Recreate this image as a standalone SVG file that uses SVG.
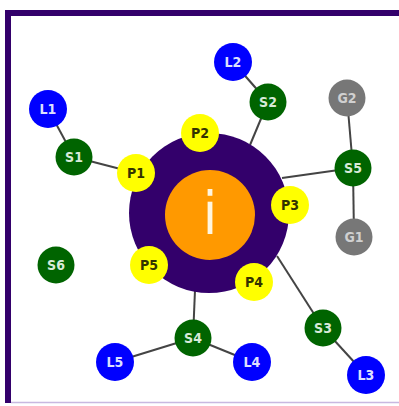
<svg xmlns="http://www.w3.org/2000/svg" width="399" height="406" viewBox="0 0 399 406">
<style>
.p{fill:#ffff00}
.s{fill:#006400}
.l{fill:#0000ff}
.g{fill:#777777}
.t{font-family:"DejaVu Sans Condensed","DejaVu Sans",sans-serif;font-size:14px;font-weight:bold;text-anchor:middle;dominant-baseline:central}
.tp{fill:#333300}
.ts{fill:#d8ead8}
.tl{fill:#dde0ff}
.tg{fill:#d0d0d0}
.e{stroke:#444444;stroke-width:2;fill:none}
</style>
<rect x="0" y="0" width="399" height="406" fill="#ffffff"/>
<rect x="5" y="10" width="394" height="6" fill="#33006b"/>
<rect x="5" y="10" width="6" height="393" fill="#33006b"/>
<line x1="11" y1="402.5" x2="399" y2="402.5" stroke="#c8b8e0" stroke-width="1.5"/>
<g id="connectors">
<line class="e" x1="48" y1="109" x2="74" y2="157"/>
<line class="e" x1="74" y1="157" x2="136" y2="173"/>
<line class="e" x1="233" y1="62" x2="268" y2="102"/>
<line class="e" x1="268" y1="102" x2="250" y2="145"/>
<line class="e" x1="347" y1="98" x2="353" y2="168"/>
<line class="e" x1="353" y1="168" x2="354" y2="237"/>
<line class="e" x1="353" y1="168" x2="282" y2="178"/>
<line class="e" x1="323" y1="328" x2="366" y2="375"/>
<line class="e" x1="323" y1="328" x2="277" y2="256"/>
<line class="e" x1="193" y1="338" x2="115" y2="362"/>
<line class="e" x1="193" y1="338" x2="252" y2="362"/>
<line class="e" x1="193" y1="338" x2="195" y2="290"/>
</g>
<g id="hub">
<circle cx="209" cy="213" r="80" fill="#33006b"/>
<circle cx="210" cy="215" r="45" fill="#ff9900"/>
<text x="210" y="234" font-family="'DejaVu Sans Condensed','DejaVu Sans',sans-serif" font-size="58" font-weight="300" text-anchor="middle" fill="#fff6e0">i</text>
</g>
<g id="P1"><circle class="p" cx="136" cy="173" r="19"/><text class="t tp" x="136" y="173">P1</text></g>
<g id="P2"><circle class="p" cx="200" cy="133" r="19"/><text class="t tp" x="200" y="133">P2</text></g>
<g id="P3"><circle class="p" cx="290" cy="205" r="19"/><text class="t tp" x="290" y="205">P3</text></g>
<g id="P4"><circle class="p" cx="254" cy="282" r="19"/><text class="t tp" x="254" y="282">P4</text></g>
<g id="P5"><circle class="p" cx="149" cy="265" r="19"/><text class="t tp" x="149" y="265">P5</text></g>
<g id="S1"><circle class="s" cx="74" cy="157" r="18.5"/><text class="t ts" x="74" y="157">S1</text></g>
<g id="S2"><circle class="s" cx="268" cy="102" r="18.5"/><text class="t ts" x="268" y="102">S2</text></g>
<g id="S3"><circle class="s" cx="323" cy="328" r="18.5"/><text class="t ts" x="323" y="328">S3</text></g>
<g id="S4"><circle class="s" cx="193" cy="338" r="18.5"/><text class="t ts" x="193" y="338">S4</text></g>
<g id="S5"><circle class="s" cx="353" cy="168" r="18.5"/><text class="t ts" x="353" y="168">S5</text></g>
<g id="S6"><circle class="s" cx="56" cy="265" r="18.5"/><text class="t ts" x="56" y="265">S6</text></g>
<g id="L1"><circle class="l" cx="48" cy="109" r="19"/><text class="t tl" x="48" y="109">L1</text></g>
<g id="L2"><circle class="l" cx="233" cy="62" r="19"/><text class="t tl" x="233" y="62">L2</text></g>
<g id="L3"><circle class="l" cx="366" cy="375" r="19"/><text class="t tl" x="366" y="375">L3</text></g>
<g id="L4"><circle class="l" cx="252" cy="362" r="19"/><text class="t tl" x="252" y="362">L4</text></g>
<g id="L5"><circle class="l" cx="115" cy="362" r="19"/><text class="t tl" x="115" y="362">L5</text></g>
<g id="G1"><circle class="g" cx="354" cy="237" r="18.5"/><text class="t tg" x="354" y="237">G1</text></g>
<g id="G2"><circle class="g" cx="347" cy="98" r="18.5"/><text class="t tg" x="347" y="98">G2</text></g>
</svg>
